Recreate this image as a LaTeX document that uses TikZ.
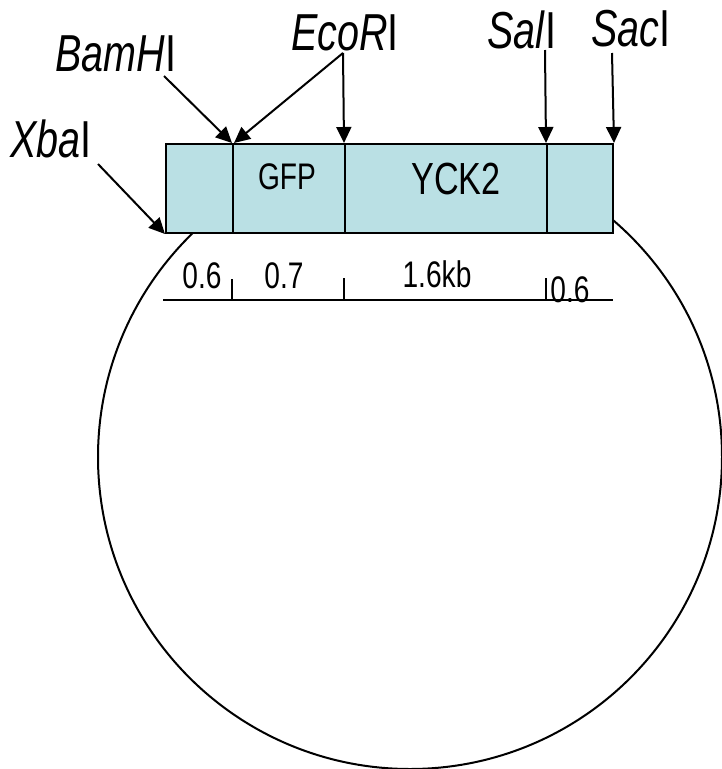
\documentclass[tikz,border=0pt]{standalone}
\usepackage{fontspec}
\setmainfont{Liberation Sans}[FakeStretch=0.76]
\usetikzlibrary{arrows.meta}
\definecolor{boxfill}{RGB}{186,224,228}
\tikzset{
  seg/.style={draw=black, line width=2pt, fill=boxfill, rectangle, inner sep=0pt,
              minimum height=89pt, anchor=north west},
  site/.style={anchor=base west, inner sep=0pt, font=\fontsize{52}{58}\selectfont},
  cut/.style={line width=2pt, -{Triangle[length=16pt,width=15pt]}},
  inlab/.style={inner sep=0pt},
  scalelab/.style={anchor=base, inner sep=0pt, font=\fontsize{37}{42}\selectfont},
  tick/.style={line width=1.5pt}
}
\begin{document}
\begin{tikzpicture}[x=1pt,y=-1pt]
\useasboundingbox (0,0) rectangle (722,769);
% plasmid circle
\draw[line width=2pt] (410,457) circle[radius=312pt];
% insert segments
\node[seg, minimum width=67pt]  (s1) at (165,143) {};
\node[seg, minimum width=112pt] (s2) at (232,143) {};
\node[seg, minimum width=202pt] (s3) at (344,143) {};
\node[seg, minimum width=66pt]  (s4) at (546,143) {};
\node[inlab, font=\fontsize{37}{42}\selectfont] (gfp) at (287,177) {GFP};
\node[inlab, font=\fontsize{45}{50}\selectfont] (yck) at (456,179) {YCK2};
% site labels
\node[site] (xba) at (10,157) {\textit{Xba}I};
\node[site] (bam) at (55,71) {\textit{BamH}I};
\node[site] (eco) at (291,50) {\textit{EcoR}I};
\node[site] (sal) at (487,48) {\textit{Sal}I};
\node[site] (sac) at (591,46) {\textit{Sac}I};
\coordinate (xbaT) at (98,164);
\coordinate (bamT) at (164,76);
\coordinate (ecoT) at (343,53);
\coordinate (salT) at (545,50);
\coordinate (sacT) at (612,53);
% arrows
\draw[cut] (xbaT) -- (s1.south west);
\draw[cut] (bamT) -- (s2.north west);
\draw[cut] (ecoT) -- ([xshift=2pt]s2.north west);
\draw[cut] (ecoT) -- (s3.north west);
\draw[cut] (salT) -- (s4.north west);
\draw[cut] (sacT) -- (s4.north east);
% scale
\coordinate (sL) at (163,300);
\coordinate (sR) at (613,300);
\draw[line width=2pt] (sL) -- (sR);
\coordinate (t1a) at (232,279); \coordinate (t1b) at (232,299);
\coordinate (t2a) at (344,278); \coordinate (t2b) at (344,299);
\coordinate (t3a) at (546,278); \coordinate (t3b) at (546,300);
\draw[tick] (t1a) -- (t1b);
\draw[tick] (t2a) -- (t2b);
\draw[tick] (t3a) -- (t3b);
\node[scalelab] (l1) at (202,288) {0.6};
\node[scalelab] (l2) at (284,288) {0.7};
\node[scalelab] (l3) at (437,287) {1.6kb};
\node[scalelab] (l4) at (570,302) {0.6};
\end{tikzpicture}
\end{document}
